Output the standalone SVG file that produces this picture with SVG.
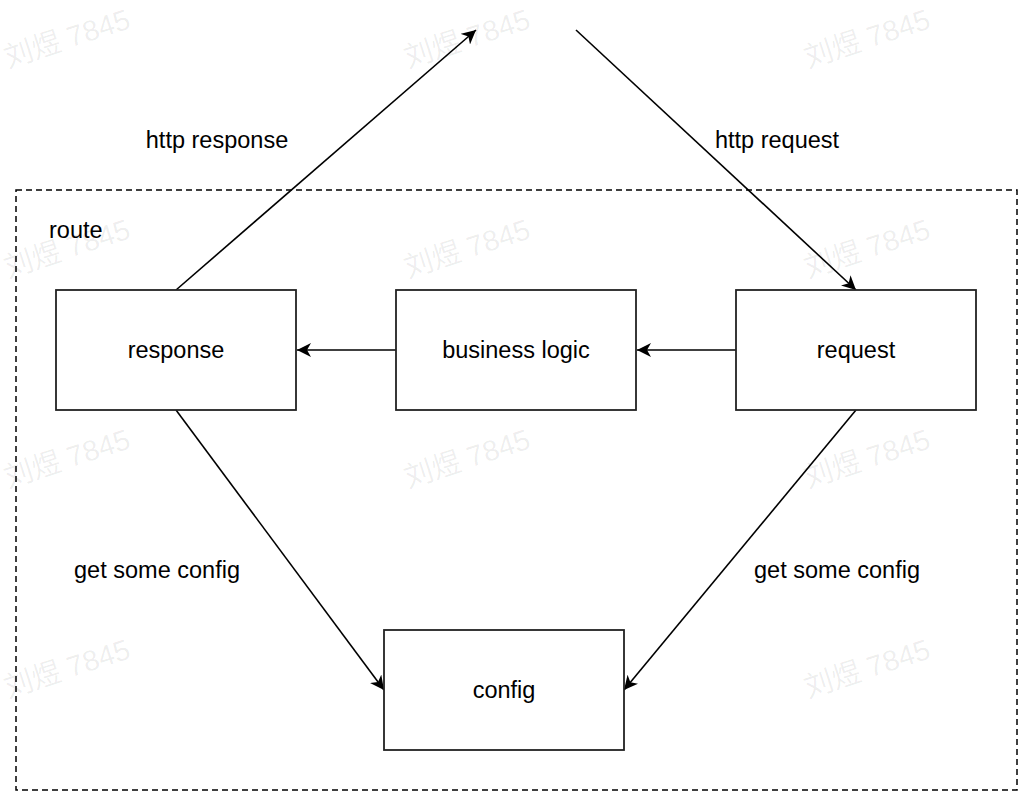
<svg xmlns="http://www.w3.org/2000/svg" width="1034" height="808" viewBox="0 0 1034 808">
<style>
.node rect{fill:#fff;stroke:#222;stroke-width:1.8}
.lbl{font-family:"Liberation Sans",Arial,Helvetica,sans-serif;font-size:23.5px;fill:#000}
.c{text-anchor:middle}
.wm{font-family:"Liberation Sans","Noto Sans CJK SC",sans-serif;font-size:29px;fill:#000;fill-opacity:0.07}
.edge{stroke:#000;stroke-width:1.6;fill:none;marker-end:url(#arr)}
</style>
<defs>
<marker id="arr" markerUnits="userSpaceOnUse" markerWidth="16" markerHeight="14" refX="14" refY="7" orient="auto">
<path d="M0,0 L14,7 L0,14 L4,7 Z" fill="#000"/>
</marker>
</defs>
<rect width="1034" height="808" fill="#fff"/>
<g id="watermarks">
<text class="wm" transform="translate(8,68) rotate(-18)">刘煜 7845</text>
<text class="wm" transform="translate(408,68) rotate(-18)">刘煜 7845</text>
<text class="wm" transform="translate(808,68) rotate(-18)">刘煜 7845</text>
<text class="wm" transform="translate(8,278) rotate(-18)">刘煜 7845</text>
<text class="wm" transform="translate(408,278) rotate(-18)">刘煜 7845</text>
<text class="wm" transform="translate(808,278) rotate(-18)">刘煜 7845</text>
<text class="wm" transform="translate(8,488) rotate(-18)">刘煜 7845</text>
<text class="wm" transform="translate(408,488) rotate(-18)">刘煜 7845</text>
<text class="wm" transform="translate(808,488) rotate(-18)">刘煜 7845</text>
<text class="wm" transform="translate(8,698) rotate(-18)">刘煜 7845</text>
<text class="wm" transform="translate(408,698) rotate(-18)">刘煜 7845</text>
<text class="wm" transform="translate(808,698) rotate(-18)">刘煜 7845</text>
</g>
<g id="route">
<rect x="16" y="190" width="1001" height="600" fill="none" stroke="#000" stroke-width="1.5" stroke-dasharray="6,4"/>
<text class="lbl" x="49" y="238">route</text>
</g>
<g id="connectors">
<line class="edge" x1="176" y1="290" x2="476" y2="30"/>
<line class="edge" x1="576" y1="30" x2="856" y2="290"/>
<line class="edge" x1="736" y1="350" x2="637" y2="350"/>
<line class="edge" x1="396" y1="350" x2="297" y2="350"/>
<line class="edge" x1="176" y1="410" x2="384" y2="690"/>
<line class="edge" x1="856" y1="410" x2="624" y2="690"/>
<text class="lbl c" x="217" y="148">http response</text>
<text class="lbl c" x="777" y="148">http request</text>
<text class="lbl c" x="157" y="578">get some config</text>
<text class="lbl c" x="837" y="578">get some config</text>
</g>
<g id="response" class="node">
<rect x="56" y="290" width="240" height="120"/>
<text class="lbl c" x="176" y="358">response</text>
</g>
<g id="business-logic" class="node">
<rect x="396" y="290" width="240" height="120"/>
<text class="lbl c" x="516" y="358">business logic</text>
</g>
<g id="request" class="node">
<rect x="736" y="290" width="240" height="120"/>
<text class="lbl c" x="856" y="358">request</text>
</g>
<g id="config" class="node">
<rect x="384" y="630" width="240" height="120"/>
<text class="lbl c" x="504" y="698">config</text>
</g>
</svg>
